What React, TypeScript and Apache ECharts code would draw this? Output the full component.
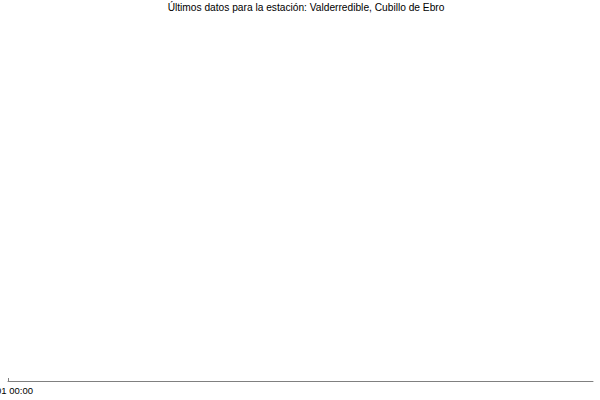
import React, { useEffect, useRef } from 'react'
import * as echarts from 'echarts'

// Empty station chart: only the title and the time axis are drawn
const title = 'Últimos datos para la estación: Valderredible, Cubillo de Ebro'
const categories = ['01 00:00', '']
const values: (number | null)[] = [null, null]

const App: React.FC = () => {
  const chartRef = useRef<HTMLDivElement>(null)

  useEffect(() => {
    if (!chartRef.current) return
    const chart = echarts.init(chartRef.current, undefined, { renderer: 'svg' })

    const option: echarts.EChartsOption = {
      animation: false,
      backgroundColor: '#ffffff',
      title: {
        text: title,
        left: 306,
        textAlign: 'center',
        top: 2,
        padding: 0,
        textStyle: {
          fontFamily: 'Liberation Sans, Arial, sans-serif',
          fontSize: 10.2,
          fontWeight: 'normal',
          color: '#000000'
        }
      },
      grid: {
        left: 8,
        right: 7,
        top: 30,
        bottom: 19,
        outerBoundsMode: 'none'
      } as any,
      xAxis: {
        type: 'category',
        data: categories,
        boundaryGap: false,
        axisLine: {
          lineStyle: { color: '#808080', width: 1 }
        },
        axisTick: {
          inside: true,
          length: 3,
          interval: (index: number) => index === 0,
          lineStyle: { color: '#808080' }
        },
        axisLabel: {
          interval: 0,
          margin: 4,
          // the first label is cut at the left edge, as in the original
          padding: [0, 0, 0, 13],
          color: '#000000',
          fontSize: 9.5,
          fontFamily: 'Liberation Sans, Arial, sans-serif'
        },
        splitLine: { show: false }
      },
      yAxis: {
        type: 'value',
        show: false
      },
      series: [
        {
          type: 'line',
          data: values,
          showSymbol: false
        }
      ]
    }

    chart.setOption(option)
    return () => {
      chart.dispose()
    }
  }, [])

  return (
    <div
      ref={chartRef}
      style={{ position: 'absolute', left: 0, top: 0, width: '600px', height: '400px' }}
    />
  )
}

export default App
